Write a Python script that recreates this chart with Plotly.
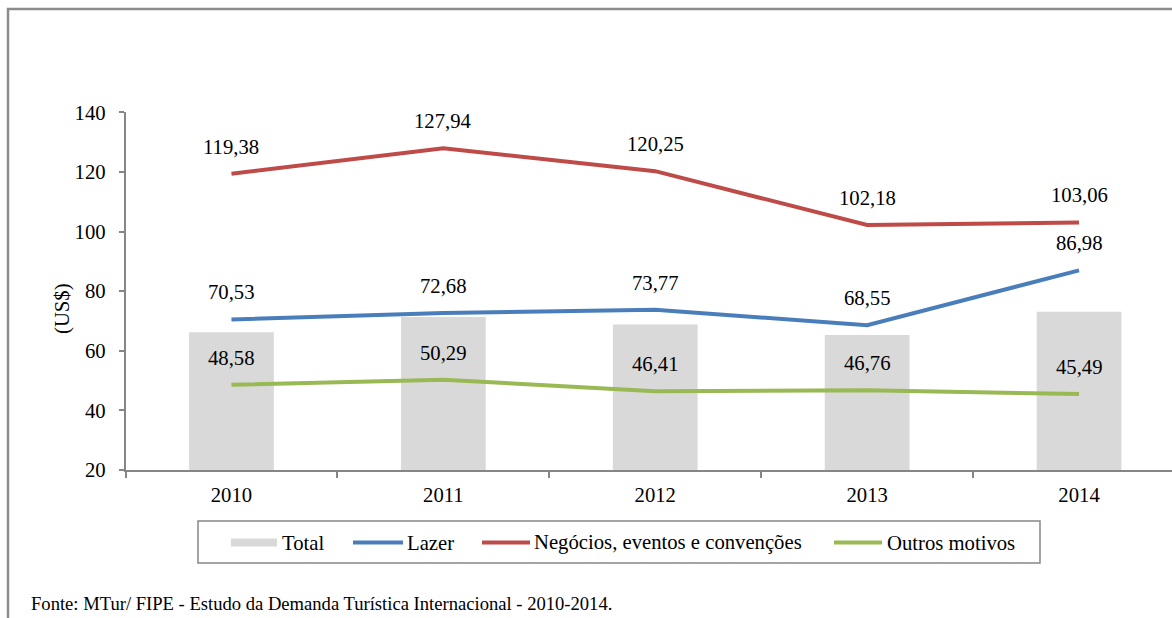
import plotly.graph_objects as go

# Gasto médio per capita/dia de turistas estrangeiros por motivo da viagem (US$)
anos = ["2010", "2011", "2012", "2013", "2014"]
total = [66.2, 71.3, 68.8, 65.3, 73.1]
lazer = [70.53, 72.68, 73.77, 68.55, 86.98]
negocios = [119.38, 127.94, 120.25, 102.18, 103.06]
outros = [48.58, 50.29, 46.41, 46.76, 45.49]

nomes = ["Total", "Lazer", "Negócios, eventos e convenções", "Outros motivos"]
cores = ["#d9d9d9", "#4a7ebb", "#be4b48", "#98b954"]

y_ticks = [20, 40, 60, 80, 100, 120, 140]
fonte = "Fonte: MTur/ FIPE - Estudo da Demanda Turística Internacional - 2010-2014."

W, H = 1172, 618
FONT = "Liberation Serif, Times New Roman, serif"
FS = 20.7
AXIS_GRAY = "#868686"
LINE_W = 4


def fx(p):
    return p / W


def fy(p):
    return 1 - p / H


def fmt(v):
    return f"{v:.2f}".replace(".", ",")


fig = go.Figure()

fig.add_trace(go.Bar(
    x=anos, y=total, name=nomes[0], marker=dict(color=cores[0], line=dict(width=0)),
    width=0.4, showlegend=False,
))

series = [(lazer, nomes[1], cores[1]), (negocios, nomes[2], cores[2]), (outros, nomes[3], cores[3])]
annotations = []
for vals, nome, cor in series:
    fig.add_trace(go.Scatter(
        x=anos, y=vals, name=nome, mode="lines",
        line=dict(color=cor, width=LINE_W), showlegend=False,
    ))
    # value labels above each point (category index on the x axis)
    for i, v in enumerate(vals):
        annotations.append(dict(
            x=i, y=v, xref="x", yref="y", text=fmt(v), showarrow=False,
            xanchor="center", yanchor="middle",
            yshift=27, font=dict(family=FONT, size=FS, color="#000000"),
        ))

# y-axis title
annotations.append(dict(
    x=fx(62), y=fy(309), xref="paper", yref="paper", text="(US$)", textangle=-90,
    xanchor="center", yanchor="middle",
    showarrow=False, font=dict(family=FONT, size=FS, color="#000000"),
))

# source note
annotations.append(dict(
    x=fx(29), y=fy(603), xref="paper", yref="paper", text=fonte,
    xanchor="left", yanchor="middle",
    showarrow=False, font=dict(family=FONT, size=18.6, color="#000000"),
))

shapes = []
# outer chart frame (left and top edges)
shapes.append(dict(
    type="path", xref="paper", yref="paper",
    path=f"M {fx(8)} {fy(H + 5)} L {fx(8)} {fy(9)} L {fx(W + 5)} {fy(9)}",
    line=dict(color="#8c8c8c", width=2.5),
))

# legend box
shapes.append(dict(
    type="rect", xref="paper", yref="paper",
    x0=fx(198), x1=fx(1040), y0=fy(563), y1=fy(521),
    line=dict(color=AXIS_GRAY, width=1.5), fillcolor="rgba(0,0,0,0)",
))

legend_y = 542.5
legend_items = [
    (nomes[0], cores[0], "rect", 231, 277, 280),
    (nomes[1], cores[1], "line", 353, 403, 405),
    (nomes[2], cores[2], "line", 482, 530, 532),
    (nomes[3], cores[3], "line", 834, 882, 885),
]
for nome, cor, kind, sx0, sx1, tx in legend_items:
    if kind == "rect":
        shapes.append(dict(
            type="rect", xref="paper", yref="paper",
            x0=fx(sx0), x1=fx(sx1), y0=fy(legend_y + 4), y1=fy(legend_y - 4),
            line=dict(width=0), fillcolor=cor,
        ))
    else:
        shapes.append(dict(
            type="line", xref="paper", yref="paper",
            x0=fx(sx0), x1=fx(sx1), y0=fy(legend_y), y1=fy(legend_y),
            line=dict(color=cor, width=LINE_W),
        ))
    annotations.append(dict(
        x=fx(tx), y=fy(legend_y), xref="paper", yref="paper", text=nome,
        xanchor="left", yanchor="middle", showarrow=False,
        font=dict(family=FONT, size=FS, color="#000000"),
    ))

fig.update_layout(
    width=W, height=H,
    margin=dict(l=0, r=0, t=0, b=0, pad=0, autoexpand=False),
    paper_bgcolor="#ffffff", plot_bgcolor="#ffffff",
    font=dict(family=FONT, size=FS, color="#000000"),
    showlegend=False,
    xaxis=dict(
        type="category", domain=[fx(125.5), 1.0],
        range=[-0.5, -0.5 + (W - 125.5) / 211.9],
        showline=True, linecolor=AXIS_GRAY, linewidth=1.5,
        ticks="outside", tickson="boundaries", ticklen=6, tickcolor=AXIS_GRAY, tickwidth=1.5,
        showgrid=False, zeroline=False, ticklabelstandoff=5,
        tickfont=dict(family=FONT, size=FS, color="#000000"),
    ),
    yaxis=dict(
        domain=[fy(470), fy(112.3)], range=[20, 140],
        tickvals=y_ticks, ticktext=[str(t) for t in y_ticks],
        showline=True, linecolor=AXIS_GRAY, linewidth=1.5,
        ticks="outside", ticklen=5, tickcolor=AXIS_GRAY, tickwidth=1.5,
        showgrid=False, zeroline=False, ticklabelstandoff=9,
        tickfont=dict(family=FONT, size=FS, color="#000000"),
    ),
    shapes=shapes,
    annotations=annotations,
)

fig.write_html("out.html")
